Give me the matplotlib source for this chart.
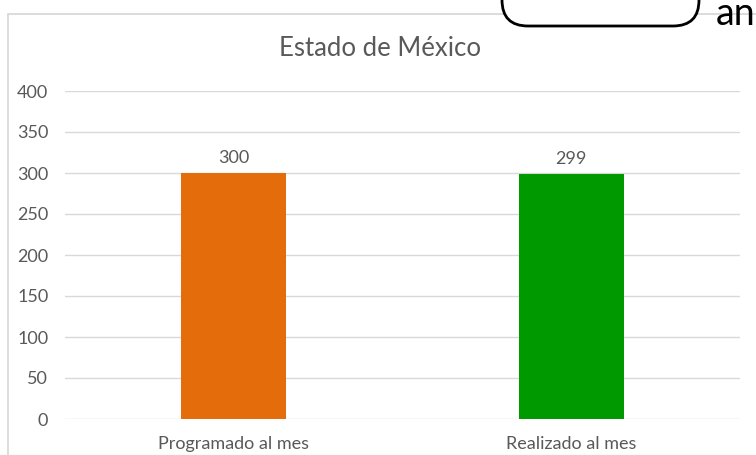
#!/usr/bin/env python3
"""Bar chart: programado vs realizado al mes, Estado de México."""

import matplotlib
matplotlib.use('Agg')
import matplotlib.pyplot as plt
from matplotlib.patches import Rectangle, FancyBboxPatch
from matplotlib.transforms import Affine2D

categories = ['Programado al mes', 'Realizado al mes']
values = [300, 299]
bar_colors = ['#E46C0A', '#009900']
y_ticks = [0, 50, 100, 150, 200, 250, 300, 350, 400]
title = 'Estado de México'

TEXT = '#595959'
GRID = '#D9D9D9'

plt.rcParams['font.family'] = ['Lato', 'DejaVu Sans']

W, H = 756, 455
fig = plt.figure(figsize=(W / 100, H / 100), dpi=100)
fig.patch.set_facecolor('white')
# pixel coordinates, origin bottom-left
px = Affine2D().scale(1 / W, 1 / H) + fig.transFigure

# chart frame (cut off at right and bottom like the screenshot)
fig.patches.append(Rectangle(
    (8, -20), W + 20, H - 14 + 20, transform=px,
    fill=False, edgecolor='#D6D6D6', linewidth=1.2, zorder=0,
))

ax = fig.add_axes([65 / W, (H - 419) / H, (740 - 65) / W, (419 - 91) / H])
x = range(len(categories))
ax.bar(x, values, width=0.31, color=bar_colors, zorder=3)
for xi, v in zip(x, values):
    ax.annotate(str(v), (xi, v), xytext=(0, 5), textcoords='offset points',
                ha='center', va='bottom', fontsize=13, color=TEXT)

ax.set_xlim(-0.5, len(categories) - 0.5)
ax.set_ylim(0, 400)
ax.set_yticks(y_ticks)
ax.set_xticks(list(x))
ax.set_xticklabels(categories)
ax.tick_params(axis='both', length=0, labelsize=13, colors=TEXT)
ax.tick_params(axis='y', pad=12)
ax.tick_params(axis='x', pad=12)
ax.grid(axis='y', color=GRID, linewidth=1, zorder=0)
for side in ['top', 'right', 'left', 'bottom']:
    ax.spines[side].set_visible(False)

fig.text(380 / W, 1 - 48 / H, title, ha='center', va='center',
         fontsize=18.5, color=TEXT)

# rounded callout box overlapping the top edge
box = FancyBboxPatch(
    (502, H - 26), 197, 60,
    boxstyle='round,pad=0,rounding_size=26',
    transform=px, facecolor='white', edgecolor='black',
    linewidth=2, zorder=5,
)
fig.patches.append(box)
fig.text(716 / W, 1 - 25 / H, 'an', ha='left', va='baseline',
         fontsize=27, color='black', zorder=6)

fig.savefig('out.png', dpi=100)
